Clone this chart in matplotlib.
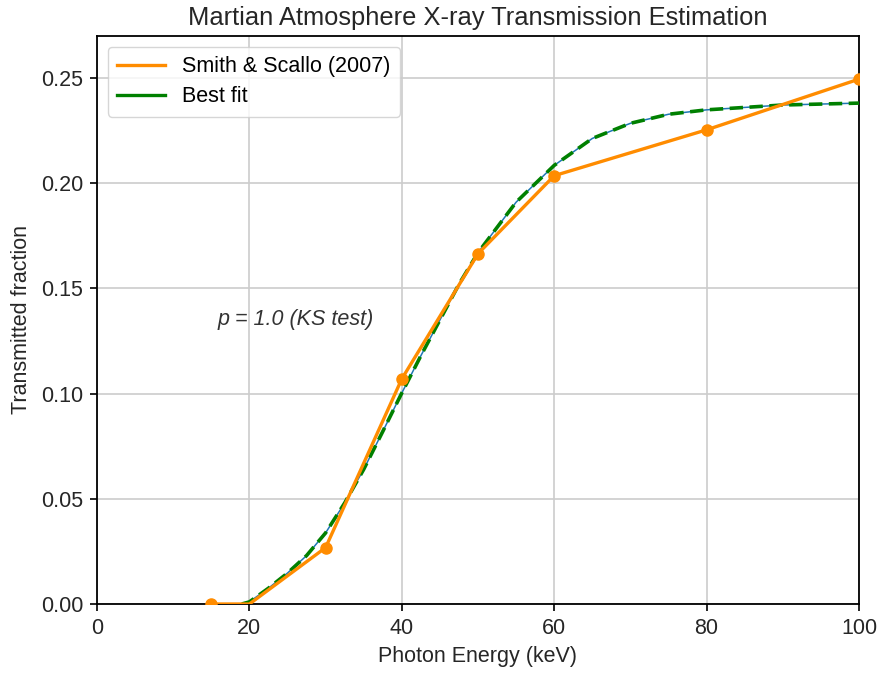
import matplotlib.pyplot as plt
from matplotlib.lines import Line2D

plt.rcParams['font.family'] = ['Liberation Sans', 'DejaVu Sans']

# Smith & Scallo (2007) measured transmission
energy = [15, 20, 30, 40, 50, 60, 80, 100]
transmission = [0.0, 0.0, 0.0268, 0.107, 0.1665, 0.2036, 0.2254, 0.2495]
marked = [0, 2, 3, 4, 5, 6, 7]   # no marker drawn at 20 keV

# best-fit curve, values
fit_energy = [19, 20, 22.5, 25, 27.5, 30, 32.5, 35, 37.5, 40, 42.5, 45, 47.5, 50,
              55, 60, 65, 70, 75, 80, 90, 100]
fit_trans = [0.0, 0.001, 0.0075, 0.0147, 0.023, 0.0338, 0.048, 0.064, 0.082, 0.1003,
             0.118, 0.135, 0.152, 0.167, 0.191, 0.2085, 0.2213, 0.2285, 0.2328,
             0.2349, 0.2372, 0.2381]

fig = plt.figure(figsize=(8.79, 6.73), dpi=100)
ax = fig.add_axes([97 / 879, 1 - 604 / 673, 762 / 879, 568 / 673])

ax.grid(True, color='#cccccc', linewidth=1.2, zorder=0)
ax.set_axisbelow(True)

ax.plot(fit_energy, fit_trans, color='#1f77b4', lw=1.1, zorder=2)
ax.plot(fit_energy, fit_trans, color='green', lw=2.6, ls=(0, (3.7, 1.8)), zorder=3)
ax.plot(energy, transmission, color='darkorange', lw=2.4, marker='o', ms=8,
        markevery=marked, zorder=4)

ax.text(15.8, 0.135, 'p = 1.0 (KS test)', fontsize=15.5, style='italic',
        va='center', ha='left', color='#333333')

ax.set_xlim(0, 100)
ax.set_ylim(0, 0.27)
ax.set_xticks([0, 20, 40, 60, 80, 100])
ax.set_yticks([0.0, 0.05, 0.10, 0.15, 0.20, 0.25])
ax.yaxis.set_major_formatter(plt.FormatStrFormatter('%.2f'))
ax.tick_params(direction='out', length=5, width=1.2, labelsize=15.5, pad=5,
               colors='black', labelcolor='#262626')
for s in ax.spines.values():
    s.set_color('black')
    s.set_linewidth(1.3)

ax.set_xlabel('Photon Energy (keV)', fontsize=15.5, color='#262626', labelpad=5)
ax.set_ylabel('Transmitted fraction', fontsize=15.5, color='#262626', labelpad=6)
ax.set_title('Martian Atmosphere X-ray Transmission Estimation', fontsize=18.4,
             color='#262626', pad=8)

handles = [Line2D([], [], color='darkorange', lw=2.4),
           Line2D([], [], color='green', lw=2.4)]
leg = ax.legend(handles, ['Smith & Scallo (2007)', 'Best fit'], loc='upper left',
                fontsize=15.5, frameon=True, fancybox=True, framealpha=0.8,
                edgecolor='#cccccc', borderpad=0.45, handlelength=2.2,
                labelspacing=0.4)

fig.savefig('out.png', dpi=100)
